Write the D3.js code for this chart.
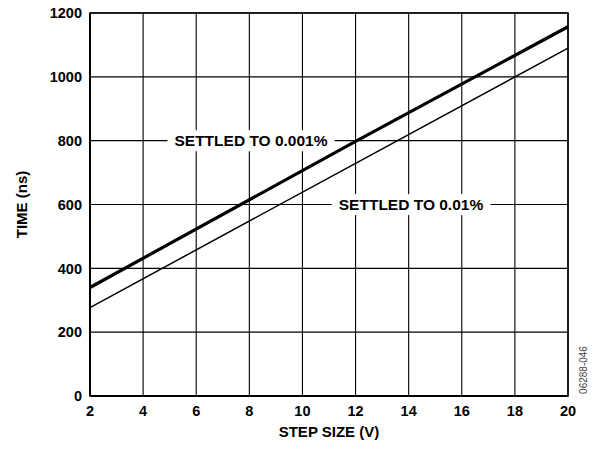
<!DOCTYPE html>
<html>
<head>
<script src="https://d3js.org/d3.v7.min.js"></script>
<style>
  body { margin: 0; background: #fff; }
  text { font-family: Arial, "Liberation Sans", sans-serif; }
</style>
</head>
<body>
<div id="vis"></div>
<script>
// values
const xTicks = [2, 4, 6, 8, 10, 12, 14, 16, 18, 20];
const yTicks = [0, 200, 400, 600, 800, 1000, 1200];
const stepSize = [2, 12, 20];
const settled0001 = [340, 798, 1157];
const settled001 = [277, 729, 1090];

const width = 593, height = 449;
const margin = { left: 90, right: 25, top: 13, bottom: 53 };

const svg = d3.select('#vis').append('svg')
  .attr('width', width)
  .attr('height', height);

const x = d3.scaleLinear().domain([2, 20]).range([margin.left, width - margin.right]);
const y = d3.scaleLinear().domain([0, 1200]).range([height - margin.bottom, margin.top]);

// grid
svg.append('g').selectAll('line').data(xTicks).enter().append('line')
  .attr('x1', d => x(d)).attr('x2', d => x(d))
  .attr('y1', y(0)).attr('y2', y(1200))
  .attr('stroke', '#000').attr('stroke-width', 1.1);
svg.append('g').selectAll('line').data(yTicks).enter().append('line')
  .attr('x1', x(2)).attr('x2', x(20))
  .attr('y1', d => y(d)).attr('y2', d => y(d))
  .attr('stroke', '#000').attr('stroke-width', 1.1);

// frame
svg.append('rect')
  .attr('x', x(2)).attr('y', y(1200))
  .attr('width', x(20) - x(2)).attr('height', y(0) - y(1200))
  .attr('fill', 'none').attr('stroke', '#000').attr('stroke-width', 1.5);
svg.append('line')
  .attr('x1', x(2)).attr('x2', x(20)).attr('y1', y(0)).attr('y2', y(0))
  .attr('stroke', '#000').attr('stroke-width', 2.2);
svg.append('line')
  .attr('x1', x(2)).attr('x2', x(2)).attr('y1', y(0)).attr('y2', y(1200))
  .attr('stroke', '#000').attr('stroke-width', 2);

// curves
const line = d3.line().x(d => x(d[0])).y(d => y(d[1]));
svg.append('path')
  .datum(stepSize.map((s, i) => [s, settled001[i]]))
  .attr('d', line).attr('fill', 'none')
  .attr('stroke', '#000').attr('stroke-width', 1.5);
svg.append('path')
  .datum(stepSize.map((s, i) => [s, settled0001[i]]))
  .attr('d', line).attr('fill', 'none')
  .attr('stroke', '#000').attr('stroke-width', 3.2);

// labels sitting on grid lines
function label(txt, cx, v) {
  const g = svg.append('g');
  const t = g.append('text')
    .attr('x', cx).attr('y', y(v)).attr('dy', '0.36em')
    .attr('text-anchor', 'middle')
    .attr('font-size', 15.5).attr('font-weight', 'bold')
    .text(txt);
  const b = t.node().getBBox();
  g.insert('rect', 'text')
    .attr('x', b.x - 7).attr('y', b.y - 2)
    .attr('width', b.width + 14).attr('height', b.height + 4)
    .attr('fill', '#fff');
}
label('SETTLED TO 0.001%', 251, 800);
label('SETTLED TO 0.01%', 411, 600);

// tick labels
svg.append('g').selectAll('text').data(xTicks).enter().append('text')
  .attr('x', d => x(d)).attr('y', y(0) + 20)
  .attr('text-anchor', 'middle')
  .attr('font-size', 14.5).attr('font-weight', 'bold')
  .text(d => d);
svg.append('g').selectAll('text').data(yTicks).enter().append('text')
  .attr('x', x(2) - 8).attr('y', d => y(d)).attr('dy', '0.36em')
  .attr('text-anchor', 'end')
  .attr('font-size', 14.5).attr('font-weight', 'bold')
  .text(d => d);

// axis titles
svg.append('text')
  .attr('x', (x(2) + x(20)) / 2).attr('y', 437)
  .attr('text-anchor', 'middle')
  .attr('font-size', 15).attr('font-weight', 'bold')
  .text('STEP SIZE (V)');
svg.append('text')
  .attr('transform', 'translate(27,' + ((y(0) + y(1200)) / 2) + ') rotate(-90)')
  .attr('text-anchor', 'middle')
  .attr('font-size', 15).attr('font-weight', 'bold')
  .text('TIME (ns)');

svg.append('text')
  .attr('transform', 'translate(587,370) rotate(-90)')
  .attr('text-anchor', 'middle')
  .attr('font-size', 10).attr('fill', '#444')
  .text('06288-046');
</script>
</body>
</html>
